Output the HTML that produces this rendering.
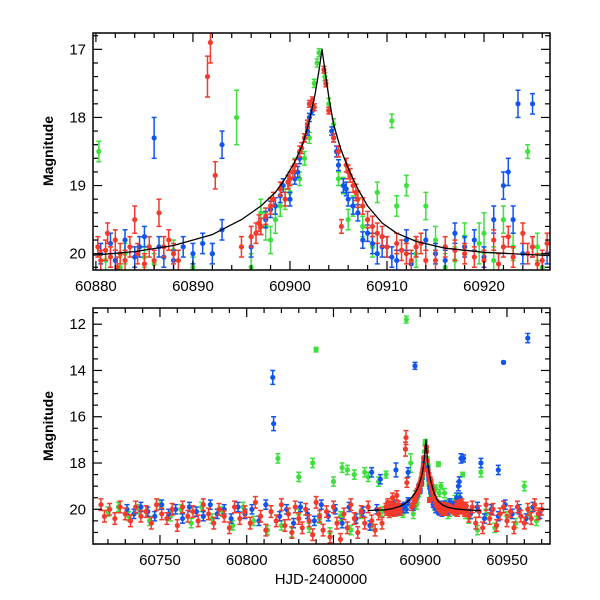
<!DOCTYPE html>
<html><head><meta charset="utf-8"><style>
html,body{margin:0;padding:0;background:#fff}
svg{display:block}
text{font-family:"Liberation Sans",sans-serif;fill:#000}
</style></head><body>
<svg id="chart" width="600" height="600" viewBox="0 0 600 600" xmlns="http://www.w3.org/2000/svg"></svg>
<script>
// ---- data: [HJD, magnitude, error] ----
const redPts = [[60880.2,19.9,.15],[60880.5,20.1,.15],[60881,19.95,.15],[60881.5,20.05,.15],[60882,19.8,.15],[60882.5,20.0,.15],[60883,20.1,.15],[60884,19.5,.2],[60884.3,20.0,.15],[60885.5,19.9,.15],[60886,20.1,.15],[60886.5,19.4,.2],[60887.5,19.8,.15],[60888,20.0,.15],[60891.5,17.4,.3],[60891.8,16.9,.3],[60892.3,18.85,.2],[60895,19.9,.15],[60896.5,19.7,.15],[60897,19.6,.12],[60898,19.3,.12],[60899,19.05,.1],[60899.5,19.2,.1],[60900,18.9,.1],[60900.5,18.7,.08],[60901,18.5,.08],[60901.5,18.3,.06],[60902,17.8,.05],[60902.3,17.75,.05],[60903.5,17.3,.05],[60903.7,17.5,.05],[60904,17.9,.05],[60904.5,18.3,.06],[60905,18.5,.08],[60905.3,19.6,.1],[60906,18.8,.1],[60906.5,19.0,.1],[60907,19.2,.12],[60908,19.5,.12],[60909,19.7,.15],[60910,19.9,.15],[60911,19.85,.15],[60912,20.0,.15],[60913,19.9,.15],[60914,20.1,.15],[60916,19.9,.15],[60918,20.0,.15],[60920,20.1,.15],[60921,19.8,.15],[60922,19.9,.15],[60923,20.05,.15],[60924,19.7,.15],[60924.5,20.0,.15],[60925,19.9,.15],[60926,20.1,.15],
[60896,19.75,.15],[60896.8,19.55,.12],[60897.5,19.45,.12],[60898.3,19.2,.1],[60899.8,18.95,.1],[60900.3,18.8,.08],[60901.2,18.45,.08],[60901.8,18.1,.06],[60902.5,17.85,.05],[60905.8,18.7,.1],[60906.2,18.85,.1],[60906.8,19.1,.12],[60907.5,19.3,.12],[60908.5,19.6,.15],[60909.5,19.75,.15],[60882.2,20.2,.15],[60881.2,19.7,.15],[60883.5,19.9,.15],[60885,20.15,.15],[60887,19.9,.15],[60888.5,20.1,.15],[60911.5,19.95,.15],[60912.5,20.1,.15],[60913.5,19.85,.15],[60915,20.1,.15],[60917,19.95,.15],[60919,20.05,.15],[60921.5,20.15,.15],[60922.5,19.75,.15],[60925.5,20.15,.15],[60926.5,19.85,.15],
[60716,19.8,.25],[60718,20.3,.25],[60721,20.0,.25],[60724,20.4,.25],[60727,19.9,.25],[60730,20.2,.25],[60733,20.5,.25],[60736,19.9,.25],[60739,20.3,.25],[60742,20.1,.25],[60745,20.6,.25],[60748,19.8,.25],[60751,20.2,.25],[60754,20.4,.25],[60757,20.0,.25],[60760,20.7,.25],[60763,19.9,.25],[60766,20.3,.25],[60769,20.1,.25],[60772,20.5,.25],[60775,19.8,.25],[60778,20.2,.25],[60781,20.6,.25],[60784,20.0,.25],[60787,20.3,.25],[60790,20.8,.25],[60793,19.9,.25],[60796,20.4,.25],[60799,20.1,.25],[60802,20.6,.25],[60805,19.7,.25],[60808,20.3,.25],[60811,20.9,.25],[60814,20.1,.25],[60817,20.5,.25],[60820,19.8,.25],[60822,20.7,.25],[60824,20.2,.25],[60826,21.0,.25],[60828,19.9,.25],[60830,20.4,.25],[60832,20.8,.25],[60834,20.0,.25],[60836,20.5,.25],[60838,21.1,.25],[60840,19.7,.25],[60842,20.3,.25],[60844,20.9,.25],[60846,20.1,.25],[60848,21.2,.25],[60850,19.9,.25],[60852,20.6,.25],[60854,21.3,.25],[60856,20.2,.25],[60858,20.8,.25],[60860,19.8,.25],[60862,20.4,.25],[60864,21.0,.25],[60866,20.1,.25],[60868,20.6,.25],[60870,19.9,.25],[60872,20.5,.25],[60874,20.9,.25],[60876,20.2,.25],[60878,20.6,.25],[60928,20.3,.25],[60930,19.9,.25],[60932,20.6,.25],[60934,20.1,.25],[60936,20.8,.25],[60938,19.8,.25],[60940,20.4,.25],[60942,20.0,.25],[60944,20.7,.25],[60946,20.2,.25],[60948,19.9,.25],[60950,20.5,.25],[60952,20.1,.25],[60954,20.8,.25],[60956,19.9,.25],[60958,20.3,.25],[60960,20.6,.25],[60962,20.0,.25],[60964,20.4,.25],[60966,19.8,.25],[60968,20.2,.25],[60970,20.0,.25]];
const bluePts = [[60880.5,20.0,.15],[60881.5,19.85,.15],[60883,19.8,.15],[60884,20.05,.15],[60885,19.75,.15],[60886,18.3,.3],[60886.5,19.9,.15],[60887,20.05,.15],[60889,19.9,.15],[60890,20.0,.15],[60891,19.85,.15],[60893,19.65,.15],[60896,19.9,.15],[60897.5,19.5,.12],[60898.5,19.3,.12],[60899.3,19.0,.1],[60900,19.2,.1],[60900.8,18.8,.08],[60901.5,18.3,.06],[60902,18.0,.06],[60904.5,18.3,.06],[60905,18.7,.08],[60905.5,19.0,.1],[60906,19.2,.1],[60907,19.4,.12],[60907.5,19.8,.12],[60908,19.7,.12],[60909,20.0,.15],[60910,19.9,.15],[60911,20.1,.15],[60912,19.8,.15],[60913,19.9,.15],[60915,20.0,.15],[60917,19.7,.15],[60919,19.8,.15],[60921,19.5,.2],[60922,19.0,.2],[60922.5,18.8,.2],[60923,19.5,.2],[60923.5,17.8,.2],[60924,20.0,.15],[60925,19.9,.15],[60926.5,20.0,.15],
[60897,19.6,.12],[60898,19.35,.12],[60899,19.15,.1],[60899.8,18.95,.1],[60900.5,18.9,.08],[60901,18.6,.08],[60901.8,18.2,.06],[60902.3,17.9,.06],[60904.3,18.2,.06],[60904.8,18.5,.08],[60905.8,19.05,.1],[60906.5,19.3,.12],[60908.5,19.85,.15],[60909.5,19.9,.15],[60910.5,20.05,.15],[60912.5,20.15,.15],[60914,19.8,.15],[60916,20.1,.15],[60918,19.9,.15],[60920,20.05,.15],[60882,20.1,.15],[60884.5,19.9,.15],[60888,20.1,.15],[60892,20.0,.15],
[60731,20.0,.2],[60735,20.2,.2],[60739,19.9,.2],[60743,20.1,.2],[60747,20.3,.2],[60751,19.8,.2],[60755,20.2,.2],[60759,20.0,.2],[60763,20.4,.2],[60767,19.9,.2],[60771,20.1,.2],[60775,20.3,.2],[60779,19.8,.2],[60783,20.2,.2],[60787,20.0,.2],[60791,20.4,.2],[60795,19.9,.2],[60799,20.2,.2],[60803,20.0,.2],[60807,20.5,.2],[60811,19.8,.2],[60819,20.3,.2],[60823,20.0,.2],[60827,20.6,.2],[60831,19.9,.2],[60835,20.2,.2],[60839,20.5,.2],[60843,19.8,.2],[60847,20.3,.2],[60851,20.0,.2],[60855,20.6,.2],[60859,19.9,.2],[60863,20.4,.2],[60867,20.1,.2],[60871,20.7,.2],[60875,20.0,.2],[60872,18.4,.2],[60877,18.7,.2],[60929,20.2,.2],[60933,19.9,.2],[60937,20.4,.2],[60941,20.0,.2],[60945,20.3,.2],[60949,19.8,.2],[60953,20.2,.2],[60957,20.0,.2],[60961,20.4,.2],[60965,19.9,.2],[60969,20.2,.2],
[60815,14.3,.3],[60815.5,16.3,.3],[60893,18.4,.2],[60897,13.8,.15],[60925,17.8,.15],[60935,18.0,.2],[60945,18.3,.2],[60948,13.65,.05],[60962,12.6,.2]];
const greenPts = [[60880.3,18.5,.15],[60881,20.1,.15],[60882.5,20.2,.15],[60885,20.05,.15],[60892,20.0,.15],[60894.5,18.0,.4],[60896,20.2,.2],[60897,19.4,.2],[60898,19.8,.2],[60899,19.3,.15],[60900,19.1,.12],[60900.5,18.7,.1],[60901,18.9,.1],[60902.5,17.5,.06],[60902.8,17.2,.06],[60903,17.05,.06],[60904.5,18.1,.08],[60905,18.9,.1],[60906,19.5,.15],[60907,19.2,.12],[60908.5,19.9,.15],[60909,19.1,.15],[60910.5,18.05,.1],[60911,19.3,.15],[60912,19.0,.15],[60914,19.3,.2],[60916,20.2,.2],[60918,19.75,.2],[60919.5,19.85,.3],[60920,19.7,.3],[60921,20.1,.2],[60922,19.5,.2],[60924.5,18.5,.1],[60925.5,19.9,.2],[60926,20.2,.2],
[60897.5,19.6,.2],[60898.5,19.5,.2],[60899.5,19.2,.15],[60901.5,18.6,.1],[60902,18.3,.08],[60903.6,17.4,.06],[60904,17.8,.08],[60905.5,19.0,.12],[60906.5,19.3,.15],[60907.5,19.6,.15],[60913,20.0,.2],[60915,19.8,.2],[60917,20.1,.2],[60923,19.9,.2],[60883,20.0,.15],[60886,20.15,.15],[60888,19.95,.15],[60890,20.2,.15],
[60720,20.1,.2],[60726,19.9,.2],[60732,20.3,.2],[60738,20.0,.2],[60744,20.5,.2],[60750,19.8,.2],[60756,20.3,.2],[60762,20.0,.2],[60768,20.6,.2],[60774,19.9,.2],[60780,20.4,.2],[60786,20.1,.2],[60792,20.7,.2],[60798,19.9,.2],[60804,20.5,.2],[60812,20.9,.2],[60820,20.7,.2],[60826,21.0,.2],[60830,20.2,.2],[60836,20.8,.2],[60842,20.4,.2],[60848,21.0,.2],[60854,20.3,.2],[60860,20.9,.2],[60866,20.2,.2],[60872,20.7,.2],[60878,20.1,.2],[60928,20.4,.2],[60933,20.9,.2],[60938,20.2,.2],[60943,20.8,.2],[60950,20.3,.2],[60955,20.6,.2],[60963,20.1,.2],[60967,20.5,.2],
[60818,17.8,.2],[60838,18.0,.2],[60840,13.1,.1],[60858,18.3,.2],[60870,18.6,.2],[60876,18.8,.2],[60862,18.5,.2],[60855,18.2,.2],[60850,18.8,.2],[60830,18.6,.2],[60868,18.4,.2],[60892,11.8,.15],[60935,18.4,.2],[60960,19.0,.2]];
const modelT = [60870,60880,60884,60888,60892,60895,60897,60898.5,60899.5,60900.5,60901.3,60902,60902.6,60903,60903.3,60903.6,60904,60904.5,60905.2,60906,60907,60908,60909.5,60911,60913,60916,60920,60927,60935];
const modelM = [20.05,20.02,19.97,19.88,19.72,19.5,19.3,19.1,18.9,18.65,18.4,18.05,17.65,17.3,17.0,17.3,17.7,18.1,18.45,18.75,19.05,19.3,19.55,19.7,19.82,19.92,19.98,20.03,20.05];
const topXTicks = [60880,60890,60900,60910,60920];
const topYTicks = [17,18,19,20];
const botXTicks = [60750,60800,60850,60900,60950];
const botYTicks = [12,14,16,18,20];

const NS="http://www.w3.org/2000/svg";
const svg=document.getElementById('chart');
function el(tag,attrs,parent){const e=document.createElementNS(NS,tag);for(const k in attrs)e.setAttribute(k,attrs[k]);(parent||svg).appendChild(e);return e;}

const panels=[
 {name:'top',x0:93,x1:550,y0:33,y1:270,t0:60879.7,t1:60926.8,m0:16.76,m1:20.24,xt:topXTicks,xminor:2,yt:topYTicks,yminor:0.2,ylabY:151},
 {name:'bottom',x0:93,x1:550,y0:308,y1:544,t0:60711.4,t1:60974.8,m0:11.3,m1:21.5,xt:botXTicks,xminor:10,yt:botYTicks,yminor:0.5,ylabY:426}
];
const series=[{name:'green',pts:greenPts,c:'#3ee03e'},{name:'blue',pts:bluePts,c:'#1155ee'},{name:'red',pts:redPts,c:'#f43a2a'}];

panels.forEach((p,pi)=>{
 const X=t=>p.x0+(t-p.t0)/(p.t1-p.t0)*(p.x1-p.x0);
 const Y=m=>p.y0+(m-p.m0)/(p.m1-p.m0)*(p.y1-p.y0);
 const g=el('g',{});
 
 
 const cp=el('clipPath',{id:'clip'+pi},g);
 el('rect',{x:p.x0,y:p.y0,width:p.x1-p.x0,height:p.y1-p.y0},cp);
 const data=el('g',{'clip-path':'url(#clip'+pi+')'},g);
 series.forEach(s=>{
  const sg=el('g',{},data);
  
  
  s.pts.forEach(d=>{
   const x=X(d[0]),ya=Y(d[1]-d[2]),yb=Y(d[1]+d[2]);
   el('line',{x1:x,x2:x,y1:ya,y2:yb,stroke:s.c,'stroke-width':1.5},sg);
   el('line',{x1:x-2.5,x2:x+2.5,y1:ya,y2:ya,stroke:s.c,'stroke-width':1.5},sg);
   el('line',{x1:x-2.5,x2:x+2.5,y1:yb,y2:yb,stroke:s.c,'stroke-width':1.5},sg);
   const c=el('circle',{cx:x,cy:Y(d[1]),r:2.6,fill:s.c},sg);
   
   
  });
 });
 const path=modelT.map((t,i)=>(i?'L':'M')+X(t).toFixed(1)+','+Y(modelM[i]).toFixed(1)).join('');
 const mp=el('path',{d:path,fill:'none',stroke:'#000','stroke-width':1.3,'stroke-linejoin':'round'},data);
 
 
 const fr=el('rect',{x:p.x0,y:p.y0,width:p.x1-p.x0,height:p.y1-p.y0,fill:'none',stroke:'#000','stroke-width':1.5},g);
 
 
 for(let t=Math.ceil(p.t0/p.xminor)*p.xminor;t<=p.t1;t+=p.xminor){
  const major=(Math.abs(t%(p.xt[1]-p.xt[0]))<1e-6);
  const L=major?9:5,x=X(t);
  el('line',{x1:x,x2:x,y1:p.y1,y2:p.y1-L,stroke:'#000','stroke-width':1.2},g);
  el('line',{x1:x,x2:x,y1:p.y0,y2:p.y0+L,stroke:'#000','stroke-width':1.2},g);
 }
 p.xt.forEach(t=>{const tx=el('text',{x:X(t),y:p.y1+21,'font-size':15,'text-anchor':'middle'},g);tx.textContent=t;
  });
 const step=p.yt[1]-p.yt[0];
 for(let k=Math.ceil(p.m0/p.yminor);k*p.yminor<=p.m1;k++){
  const m=k*p.yminor,major=Math.abs(m/step-Math.round(m/step))<1e-6;
  const L=major?9:5,y=Y(m);
  el('line',{x1:p.x0,x2:p.x0+L,y1:y,y2:y,stroke:'#000','stroke-width':1.2},g);
  el('line',{x1:p.x1,x2:p.x1-L,y1:y,y2:y,stroke:'#000','stroke-width':1.2},g);
 }
 p.yt.forEach(m=>{const tx=el('text',{x:p.x0-7,y:Y(m)+5,'font-size':15,'text-anchor':'end'},g);tx.textContent=m;
  });
 const yl=el('text',{x:0,y:0,'font-size':14,'font-weight':'bold','text-anchor':'middle',transform:'translate(53,'+p.ylabY+') rotate(-90)','font-family':'Liberation Serif, serif'},g);
 yl.textContent='Magnitude';
 
 
});
const xl=el('text',{x:321,y:584,'font-size':15,'text-anchor':'middle','font-family':'Liberation Mono, monospace'});
xl.textContent='HJD-2400000';


</script>
</body></html>
